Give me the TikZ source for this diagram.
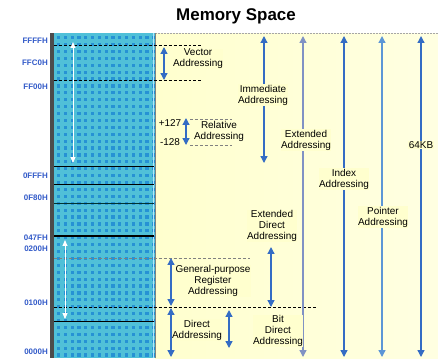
\documentclass[tikz,border=0pt]{standalone}
\usepackage{fontspec}
\setmainfont{Liberation Sans}
\usepackage{xcolor}
\usetikzlibrary{arrows.meta, positioning}

\definecolor{barteal}{RGB}{80,192,216}
\definecolor{barsq}{RGB}{38,146,212}
\definecolor{memyellow}{RGB}{255,255,206}
\definecolor{addrblue}{RGB}{52,108,196}
\definecolor{addrlight}{RGB}{92,150,214}
\definecolor{addrgray}{RGB}{128,146,196}
\definecolor{hexblue}{RGB}{50,90,200}

\tikzset{
  addr/.style={draw=addrblue, line width=1.3pt,
    {Triangle[width=7pt,length=7pt]}-{Triangle[width=7pt,length=7pt]}},
  wharrow/.style={draw=white, line width=0.9pt,
    {Triangle[width=5pt,length=6pt]}-{Triangle[width=5pt,length=6pt]}},
  lbl/.style={font=\fontsize{10}{11}\selectfont, align=center, inner sep=0.5pt, fill=memyellow},
  hexlbl/.style={font=\fontsize{8}{9}\selectfont\bfseries, text=hexblue, anchor=east, inner sep=0pt},
  cut/.style={black, line width=0.8pt, dash pattern=on 3pt off 2pt},
  graycut/.style={gray, line width=0.8pt, dash pattern=on 3pt off 2pt},
}

\begin{document}
\begin{tikzpicture}[x=1bp, y=-1bp]
    \useasboundingbox (0,0) rectangle (438,360);

    % title
    \node (title) [font=\fontsize{17}{19}\selectfont\bfseries] at (236,16) {Memory Space};

    % yellow field and memory bar
    \fill[left color=memyellow, right color=memyellow!60!white] (155,33) rectangle (438,358);
    \draw[gray!70, dash pattern=on 2pt off 1pt] (155,33) -- (438,33);
    \fill[barteal] (50,33) rectangle (155,358);
    \foreach \i in {0,...,14}
      \foreach \j in {0,...,46}
        \fill[barsq] (57+\i*6.8, 36+\j*6.9) rectangle ++(3.2,3.2);
    \fill[black!70] (50,33) rectangle (54,358);
    \draw[cyan!30, line width=1.5pt] (153.5,33) -- (153.5,358);
    \draw[gray, line width=0.6pt] (155,33) -- (155,358);

    % boundary lines inside the bar
    \draw[black, line width=0.9pt] (54,166) -- (154,166);
    \draw[black, line width=0.9pt] (54,184) -- (154,184);
    \draw[black!60!teal, line width=0.9pt] (54,203) -- (154,203);
    \draw[black, line width=1.4pt] (54,236) -- (154,236);
    \draw[black, line width=0.9pt] (54,321) -- (154,321);

    % dashed boundaries
    \draw[cut] (54,45) -- (201,45);
    \draw[cut] (54,80) -- (202,80);
    \draw[graycut] (190,119) -- (232,119);
    \draw[graycut] (190,145) -- (232,145);
    \draw[graycut] (54,258) -- (250,258);
    \draw[cut] (54,307) -- (318,307);

    % addresses
    \node (aFFFF) [hexlbl] at (48,41) {FFFFH};
    \node (aFFC0) [hexlbl] at (48,63) {FFC0H};
    \node (aFF00) [hexlbl] at (48,87) {FF00H};
    \node (a0FFF) [hexlbl] at (48,176) {0FFFH};
    \node (a0F80) [hexlbl] at (48,198) {0F80H};
    \node (a047F) [hexlbl] at (48,238) {047FH};
    \node (a0200) [hexlbl] at (48,249) {0200H};
    \node (a0100) [hexlbl] at (48,303) {0100H};
    \node (a0000) [hexlbl] at (48,352) {0000H};

    % white range arrows in the bar
    \coordinate (wtopA) at (73,42);
    \coordinate (wtopB) at (73,163);
    \coordinate (wlowA) at (65,240);
    \coordinate (wlowB) at (65,319);
    \draw[wharrow] (wtopA) -- (wtopB);
    \draw[wharrow] (wlowA) -- (wlowB);

    % addressing ranges
    \foreach \n/\x/\ya/\yb in {vec/164/47/80, rel/186/118/145, imm/264/36/163,
        index/344/36/357, kb/421/36/357, extdir/271/247/307,
        gpr/171/258/306, dir/171/308/357, bit/229/310/348} {
      \coordinate (\n-t) at (\x,\ya);
      \coordinate (\n-b) at (\x,\yb);
      \draw[addr] (\n-t) -- (\n-b);
    }
    \coordinate (ext-t) at (303,36);
    \coordinate (ext-b) at (303,357);
    \draw[addr, draw=addrgray] (ext-t) -- (ext-b);
    \coordinate (ptr-t) at (382,36);
    \coordinate (ptr-b) at (382,357);
    \draw[addr, draw=addrlight] (ptr-t) -- (ptr-b);

    % labels
    \node (vec) [lbl] at (198,59) {Vector\\Addressing};
    \node (plus) [lbl] at (170,123) {+127};
    \node (minus) [lbl] at (170,142) {-128};
    \node (rel) [lbl, fill=none] at (219,131) {Relative\\Addressing};
    \node (imm) [lbl] at (263,95) {Immediate\\Addressing};
    \node (ext) [lbl] at (306,140) {Extended\\Addressing};
    \node (index) [lbl] at (344,179) {Index\\Addressing};
    \node (ptr) [lbl] at (383,217) {Pointer\\Addressing};
    \node (kb) [lbl] at (421,145) {64KB};
    \node (extdir) [lbl] at (272,226) {Extended\\Direct\\Addressing};
    \node (gpr) [lbl] at (213,281) {General-purpose\\Register\\Addressing};
    \node (dir) [lbl] at (197,330) {Direct\\Addressing};
    \node (bit) [lbl] at (278,331) {Bit\\Direct\\Addressing};
\end{tikzpicture}
\end{document}
